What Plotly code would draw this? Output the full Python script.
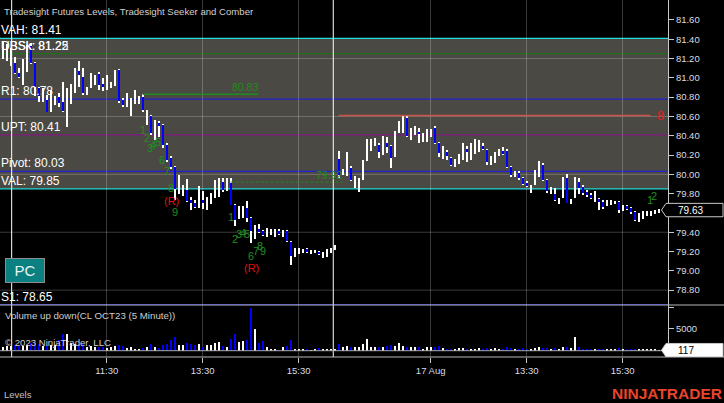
import plotly.graph_objects as go

# ---------------- data ----------------
x_index = list(range(-2, 163))

opens = [
    81.22, 81.21, 81.15, 81.15, 81.05, 80.94, 81.07, 81.33, 81.15, 80.89,
    80.77, 80.77, 80.68, 80.73, 80.80, 80.75, 80.58, 80.75, 80.86, 81.07,
    81.01, 80.83, 80.92, 80.94, 81.04, 80.94, 80.88, 80.90, 80.93, 81.08,
    80.77, 80.71, 80.63, 80.74, 80.74, 80.80, 80.53, 80.60, 80.39, 80.53,
    80.51, 80.30, 80.17, 80.08, 79.81, 79.79, 79.84, 79.73, 79.70, 79.66,
    79.73, 79.64, 79.70, 79.76, 79.78, 79.92, 79.84, 79.91, 79.68, 79.55,
    79.56, 79.65, 79.55, 79.34, 79.43, 79.41, 79.36, 79.38, 79.36, 79.41,
    79.36, 79.41, 79.30, 79.15, 79.18, 79.19, 79.23, 79.18, 79.19, 79.20,
    79.14, 79.15, 79.20, 79.23,
    80.16, 80.00, 79.99, 80.07, 79.87, 79.84, 79.95, 80.15, 80.25, 80.30,
    80.30, 80.21, 80.33, 80.29, 80.19, 80.44, 80.45, 80.58, 80.37, 80.42,
    80.44, 80.36, 80.36, 80.40, 80.48, 80.32, 80.17, 80.23, 80.17, 80.09,
    80.12, 80.16, 80.26, 80.16, 80.22, 80.24, 80.29, 80.25, 80.11, 80.13,
    80.20, 80.24, 80.24, 80.08, 79.98, 80.01, 79.96, 79.91, 79.82, 79.90,
    79.98, 80.10, 79.94, 79.81, 79.80, 79.70, 79.76, 79.96, 79.70, 79.77,
    79.92, 79.87, 79.82, 79.79, 79.72, 79.74, 79.71, 79.68, 79.69, 79.70,
    79.71, 79.63, 79.67, 79.65, 79.61, 79.53, 79.55, 79.58, 79.58, 79.60, 79.61,
]
highs = [
    81.38, 81.35, 81.31, 81.22, 81.10, 81.20, 81.34, 81.36, 81.16, 80.91,
    80.90, 80.82, 80.87, 80.81, 80.84, 80.96, 80.89, 80.94, 81.10, 81.17,
    81.10, 80.91, 81.05, 81.03, 81.06, 81.00, 81.03, 80.96, 81.08, 81.09,
    80.79, 80.84, 80.79, 80.87, 80.81, 80.83, 80.67, 80.62, 80.56, 80.55,
    80.52, 80.32, 80.19, 80.09, 79.99, 79.89, 79.95, 79.77, 79.73, 79.88,
    79.83, 79.77, 79.81, 79.94, 79.96, 79.96, 79.96, 79.96, 79.69, 79.67,
    79.67, 79.72, 79.56, 79.48, 79.49, 79.42, 79.44, 79.43, 79.43, 79.43,
    79.42, 79.42, 79.31, 79.24, 79.24, 79.23, 79.24, 79.22, 79.22, 79.21,
    79.20, 79.23, 79.24, 79.27,
    80.24, 80.06, 80.23, 80.09, 79.98, 79.96, 80.15, 80.37, 80.37, 80.38,
    80.32, 80.40, 80.39, 80.30, 80.45, 80.55, 80.61, 80.60, 80.48, 80.50,
    80.48, 80.43, 80.47, 80.47, 80.50, 80.34, 80.29, 80.25, 80.18, 80.16,
    80.21, 80.33, 80.29, 80.33, 80.37, 80.36, 80.32, 80.26, 80.19, 80.23,
    80.26, 80.28, 80.26, 80.09, 80.04, 80.03, 79.97, 79.93, 79.89, 80.05,
    80.14, 80.12, 79.95, 79.87, 79.86, 79.75, 79.97, 80.00, 79.74, 79.97,
    79.96, 79.89, 79.84, 79.81, 79.83, 79.75, 79.73, 79.73, 79.73, 79.72,
    79.72, 79.68, 79.68, 79.66, 79.62, 79.60, 79.62, 79.62, 79.62, 79.63, 79.64,
]
lows = [
    81.20, 81.18, 81.12, 81.04, 81.00, 80.93, 81.06, 81.14, 80.81, 80.75,
    80.75, 80.65, 80.65, 80.72, 80.70, 80.65, 80.49, 80.73, 80.84, 80.91,
    80.82, 80.82, 80.90, 80.93, 80.87, 80.86, 80.87, 80.89, 80.92, 80.74,
    80.70, 80.70, 80.61, 80.73, 80.73, 80.65, 80.51, 80.41, 80.36, 80.39,
    80.27, 80.13, 80.06, 79.73, 79.80, 79.78, 79.71, 79.63, 79.65, 79.65,
    79.64, 79.63, 79.69, 79.75, 79.77, 79.82, 79.83, 79.68, 79.46, 79.54,
    79.55, 79.51, 79.29, 79.33, 79.39, 79.36, 79.35, 79.37, 79.35, 79.37,
    79.35, 79.30, 79.06, 79.14, 79.17, 79.18, 79.19, 79.17, 79.18, 79.16,
    79.13, 79.14, 79.19, 79.22,
    79.96, 79.99, 79.98, 79.93, 79.86, 79.82, 79.94, 80.14, 80.24, 80.29,
    80.17, 80.20, 80.22, 80.07, 80.18, 80.43, 80.43, 80.39, 80.36, 80.41,
    80.32, 80.34, 80.34, 80.39, 80.31, 80.18, 80.16, 80.15, 80.09, 80.08,
    80.11, 80.15, 80.13, 80.15, 80.21, 80.23, 80.25, 80.10, 80.10, 80.12,
    80.19, 80.20, 80.07, 79.97, 79.97, 79.94, 79.89, 79.87, 79.81, 79.89,
    79.97, 79.93, 79.81, 79.80, 79.72, 79.69, 79.75, 79.70, 79.69, 79.76,
    79.80, 79.79, 79.77, 79.74, 79.71, 79.63, 79.64, 79.67, 79.68, 79.69,
    79.60, 79.62, 79.63, 79.59, 79.52, 79.51, 79.54, 79.57, 79.57, 79.59, 79.60,
]
closes = [
    81.33, 81.30, 81.27, 81.05, 81.01, 81.18, 81.32, 81.15, 80.91, 80.81,
    80.88, 80.65, 80.84, 80.79, 80.74, 80.66, 80.86, 80.92, 81.07, 81.03,
    80.84, 80.90, 81.03, 81.02, 80.93, 80.91, 81.02, 80.95, 81.07, 80.76,
    80.72, 80.82, 80.77, 80.86, 80.80, 80.67, 80.65, 80.43, 80.54, 80.50,
    80.30, 80.15, 80.08, 79.85, 79.97, 79.88, 79.72, 79.70, 79.66, 79.86,
    79.71, 79.76, 79.80, 79.92, 79.94, 79.84, 79.95, 79.68, 79.53, 79.66,
    79.66, 79.55, 79.41, 79.47, 79.41, 79.37, 79.43, 79.42, 79.42, 79.38,
    79.41, 79.31, 79.15, 79.23, 79.23, 79.22, 79.20, 79.21, 79.21, 79.17,
    79.19, 79.22, 79.23, 79.26,
    79.99, 80.05, 80.21, 79.94, 79.97, 79.95, 80.13, 80.35, 80.35, 80.36,
    80.23, 80.38, 80.28, 80.17, 80.43, 80.54, 80.60, 80.40, 80.47, 80.49,
    80.42, 80.42, 80.46, 80.46, 80.32, 80.22, 80.28, 80.19, 80.10, 80.15,
    80.20, 80.31, 80.24, 80.31, 80.35, 80.34, 80.26, 80.13, 80.18, 80.22,
    80.25, 80.22, 80.08, 79.99, 80.03, 79.96, 79.90, 79.88, 79.88, 80.03,
    80.12, 79.94, 79.83, 79.86, 79.73, 79.74, 79.96, 79.70, 79.73, 79.95,
    79.86, 79.81, 79.79, 79.76, 79.82, 79.71, 79.66, 79.72, 79.72, 79.71,
    79.63, 79.67, 79.65, 79.61, 79.53, 79.59, 79.61, 79.61, 79.61, 79.62, 79.63,
]
volumes = [
    900, 1100, 1000, 1300, 1300, 1070, 1300, 1700, 2070, 1530,
    1070, 1300, 1300, 1300, 2450, 3830, 3830, 1690, 1530, 1530,
    1690, 770, 1070, 900, 900, 900, 540, 770, 1070, 1380,
    1070, 540, 770, 300, 300, 540, 770, 1530, 770, 540,
    1300, 1530, 2450, 3220, 1300, 1300, 1840, 1530, 1300, 1530,
    770, 1300, 1300, 1690, 2070, 1070, 770, 2600, 3830, 2070,
    2300, 2450, 9700, 4900, 1700, 2200, 770, 460, 380, 150,
    770, 1070, 2450, 300, 250, 300, 200, 150, 250, 540,
    300, 300, 250, 200,
    1530, 920, 1070, 770, 770, 920, 1460, 2680, 920, 920,
    920, 920, 1150, 1300, 1150, 1840, 1150, 920, 920, 770,
    770, 460, 770, 770, 920, 1070, 610, 380, 380, 460,
    610, 610, 380, 380, 460, 540, 380, 610, 460, 540,
    460, 380, 770, 610, 380, 460, 540, 380, 460, 540,
    770, 540, 610, 460, 540, 380, 770, 770, 610, 3150,
    770, 380, 300, 300, 380, 300, 380, 300, 300, 300,
    610, 300, 250, 300, 380, 250, 300, 200, 250, 200, 117,
]

tick_index = [24, 48, 72, 105, 129, 153]
tick_text = ["11:30", "13:30", "15:30", "17 Aug", "13:30", "15:30"]
# 79.60 is hidden behind the last-price marker in the reference
price_ticks = [78.8, 79.0, 79.2, 79.4, 79.8, 80.0, 80.2, 80.4,
               80.6, 80.8, 81.0, 81.2, 81.4, 81.6]
grid_levels = [78.8, 79.4, 80.0, 80.6, 81.2]
volume_ticks = [5000, 10000]
session_breaks = [0.25, 80.65]

level_names = ["VAH", "R1", "UPT", "Pivot", "VAL", "S1"]
level_values = [81.41, 80.78, 80.41, 80.03, 79.85, 78.65]
seeker_names = ["UBSk", "DBSk"]
seeker_values = [81.25, 81.22]

comber_start = [33, 55]
comber_end = [62, 83]
comber_values = [80.83, 79.92]
target_start, target_end, target_value, target_label = 82, 160, 80.61, "8"

td_x = [33.2, 34.1, 34.8, 35.6, 36.8, 37.8, 39.1, 40.0, 41.0,
        55.1, 56.0, 57.2, 58.1, 59.0, 60.1, 61.3, 62.3, 63.2, 159.9, 160.9]
td_y = [80.455, 80.377, 80.273, 80.304, 80.335, 80.149, 80.030, 79.854, 79.615,
        79.558, 79.330, 79.377, 79.392, 79.377, 79.154, 79.206, 79.258, 79.201,
        79.734, 79.776]
td_text = ["1", "2", "3", "4", "5", "6", "7", "8", "9",
           "1", "2", "3", "4", "5", "6", "7", "8", "9", "1", "2"]
rev_x = [40.1, 60.3]
rev_y = [79.724, 79.030]

# ---------------- styling helpers ----------------
FONT = "Liberation Sans, Arial, sans-serif"
UP, DOWN = "#ffffff", "#0000ff"
colors = [UP if c >= o else DOWN for o, c in zip(opens, closes)]
body_base = [min(o, c) for o, c in zip(opens, closes)]
body_len = [max(abs(c - o), 0.011) for o, c in zip(opens, closes)]
wick_len = [h - l for h, l in zip(highs, lows)]

fig = go.Figure()
fig.add_trace(go.Bar(x=x_index, y=wick_len, base=lows, width=0.28,
                     marker=dict(color="#ffffff", line=dict(width=0)),
                     xaxis="x", yaxis="y", hoverinfo="skip"))
fig.add_trace(go.Bar(x=x_index, y=body_len, base=body_base, width=0.55,
                     marker=dict(color=colors, line=dict(width=0)),
                     xaxis="x", yaxis="y", hoverinfo="skip"))
fig.add_trace(go.Bar(x=x_index, y=volumes, width=0.55,
                     marker=dict(color=colors, line=dict(width=0)),
                     xaxis="x", yaxis="y2", hoverinfo="skip"))

shapes = []
# value area
shapes.append(dict(type="rect", xref="paper", yref="y", x0=0, x1=1,
                   y0=level_values[4], y1=level_values[0],
                   fillcolor="#4b4943", line=dict(width=0), layer="below"))
for g in grid_levels:
    shapes.append(dict(type="line", xref="paper", yref="y", x0=0, x1=1, y0=g, y1=g,
                       line=dict(color="rgba(255,255,255,0.22)", width=1), layer="below"))
level_colors = ["#22dede", "#2222d0", "#801a80", "#2222d0", "#22dede", "#2222d0"]
for v, col in zip(level_values, level_colors):
    shapes.append(dict(type="line", xref="paper", yref="y", x0=0, x1=1, y0=v, y1=v,
                       line=dict(color=col, width=1.3), layer="below"))
shapes.append(dict(type="line", xref="paper", yref="y", x0=0, x1=1,
                   y0=seeker_values[0], y1=seeker_values[0],
                   line=dict(color="#127a12", width=1), layer="below"))
shapes.append(dict(type="line", xref="x", yref="y", x0=comber_start[0], x1=comber_end[0],
                   y0=comber_values[0], y1=comber_values[0],
                   line=dict(color="#1e8c1e", width=1.3)))
shapes.append(dict(type="line", xref="x", yref="y", x0=comber_start[1], x1=comber_end[1],
                   y0=comber_values[1], y1=comber_values[1],
                   line=dict(color="#1e8c1e", width=1, dash="3px,2px")))
shapes.append(dict(type="line", xref="x", yref="y", x0=target_start, x1=target_end,
                   y0=target_value, y1=target_value,
                   line=dict(color="#c8554a", width=1.3)))
for sb in session_breaks:
    shapes.append(dict(type="line", xref="x", yref="paper", x0=sb, x1=sb, y0=0, y1=1,
                       line=dict(color="#ffffff", width=1)))
# panel separators
PX_W = 668.0
PX_H = 357.0
price_dom0 = 1 - 305 / PX_H
for yy in [price_dom0, 0]:
    shapes.append(dict(type="line", xref="paper", yref="paper", x0=0, x1=724 / PX_W,
                       y0=yy, y1=yy, line=dict(color="#b8b8b8", width=1)))
# volume baseline
shapes.append(dict(type="line", xref="paper", yref="y2", x0=0, x1=1, y0=0, y1=0,
                   line=dict(color="#a8a8a8", width=1)))

# last price marker
last_c = closes[-1]
hh = 6.7 * (81.807 - 78.646) / 305
xt, xl, xr = 661.5 / PX_W, 666 / PX_W, 723 / PX_W
shapes.append(dict(type="path", xref="paper", yref="y", layer="above",
                   path=f"M {xt},{last_c} L {xl},{last_c + hh} L {xr},{last_c + hh} "
                        f"L {xr},{last_c - hh} L {xl},{last_c - hh} Z",
                   fillcolor="#000000", line=dict(color="#c8c8c8", width=1)))
last_v = volumes[-1]
vh = 6.7 * (10500 + 1450) / 52
shapes.append(dict(type="path", xref="paper", yref="y2", layer="above",
                   path=f"M {xt},{last_v} L {xl},{last_v + vh} L {xr},{last_v + vh} "
                        f"L {xr},{last_v - vh} L {xl},{last_v - vh} Z",
                   fillcolor="#ffffff", line=dict(color="#c8c8c8", width=1)))

ann = []
def txt(x, y, s, size=10, color="#d0d0d0", xanchor="left", yanchor="middle",
        xref="paper", yref="paper", **kw):
    ann.append(dict(x=x, y=y, text=s, showarrow=False, xref=xref, yref=yref,
                    xanchor=xanchor, yanchor=yanchor, borderpad=0,
                    font=dict(family=FONT, size=size, color=color), **kw))

for n, v in zip(level_names, level_values):
    txt(0, v, f"{n}: {v:.2f}", size=12, color="#ffffff", yanchor="bottom", yref="y")
for n, v in zip(seeker_names, seeker_values):
    txt(0, seeker_values[0], f"{n}: {v:.2f}", size=12, color="#ffffff",
        yanchor="bottom", yref="y")
txt(comber_end[0], comber_values[0], f"{comber_values[0]:.2f}", size=10.5,
    color="#1e8c1e", xanchor="right", yanchor="bottom", xref="x", yref="y")
txt(comber_end[1], comber_values[1], f"{comber_values[1]:.2f}", size=10.5,
    color="#1e8c1e", xanchor="right", yanchor="bottom", xref="x", yref="y")
txt(665 / PX_W, target_value, target_label, size=12.5, color="#e02020",
    xanchor="right", yref="y")
for xv, yv, s in zip(td_x, td_y, td_text):
    txt(xv, yv, s, size=11, color="#1f8f1f", xanchor="center", xref="x", yref="y")
for xv, yv in zip(rev_x, rev_y):
    txt(xv, yv, "(R)", size=11, color="#e01010", xanchor="center", xref="x", yref="y")

txt(3 / PX_W, 1 - 11 / PX_H, "Tradesight Futures Levels, Tradesight Seeker and Comber",
    size=9.6, color="#cfcfcf")
txt(4 / PX_W, 1 - 315.5 / PX_H, "Volume up down(CL OCT23 (5 Minute))", size=9.7, color="#cfcfcf")
txt(4 / PX_W, 1 - 342.5 / PX_H, "© 2023 NinjaTrader, LLC", size=9.6, color="#cfcfcf")
txt(3 / PX_W, 1 - 394 / PX_H, "Levels", size=9.5, color="#c0c0c0")
txt(723 / PX_W, 1 - 393 / PX_H, "<b>NINJATRADER</b>", size=15.5, color="#e8452b",
    xanchor="right")
ann.append(dict(x=25 / PX_W, y=1 - 270.5 / PX_H, xref="paper", yref="paper", text="PC",
                showarrow=False, xanchor="center", yanchor="middle", width=38, height=23,
                bgcolor="#0b8080", bordercolor="#8c8c8c", borderwidth=1, borderpad=0,
                font=dict(family=FONT, size=15, color="#e8f4f4")))
txt(677 / PX_W, last_c, f"{last_c:.2f}", size=10, color="#ffffff", yref="y")
txt(677 / PX_W, last_v, f"{last_v}", size=10, color="#000000", yref="y2")

axis_font = dict(family=FONT, size=9.5, color="#d8dde8")
fig.update_layout(
    width=724, height=403, margin=dict(l=0, r=56, t=0, b=46),
    paper_bgcolor="#000000", plot_bgcolor="#000000",
    barmode="overlay", showlegend=False, bargap=0,
    xaxis=dict(domain=[0, 1], range=[-2.6675, 164.3325], anchor="y2",
               tickvals=tick_index, ticktext=tick_text, showgrid=True,
               gridcolor="rgba(255,255,255,0.22)", gridwidth=1, ticks="outside",
               ticklen=5, tickcolor="#c8c8c8", tickfont=axis_font, zeroline=False,
               showline=False, fixedrange=True),
    yaxis=dict(domain=[price_dom0, 1], range=[78.646, 81.807], side="right", anchor="x",
               tickvals=price_ticks, tickformat=".2f", ticks="outside", ticklen=5,
               tickcolor="#c8c8c8", showline=True, linecolor="#c8c8c8", linewidth=1,
               showgrid=False, zeroline=False, tickfont=axis_font),
    yaxis2=dict(domain=[0, price_dom0], range=[-1450, 10500], side="right", anchor="x",
                tickvals=volume_ticks, ticktext=["5000", ""], ticks="outside", ticklen=5,
                tickcolor="#c8c8c8", showline=True, linecolor="#c8c8c8", linewidth=1,
                showgrid=False, zeroline=False, tickfont=axis_font),
    shapes=shapes, annotations=ann,
)
fig.write_html("out.html", config={"displayModeBar": False},
               post_script="document.body.style.margin='0';document.body.style.overflow='hidden';")
